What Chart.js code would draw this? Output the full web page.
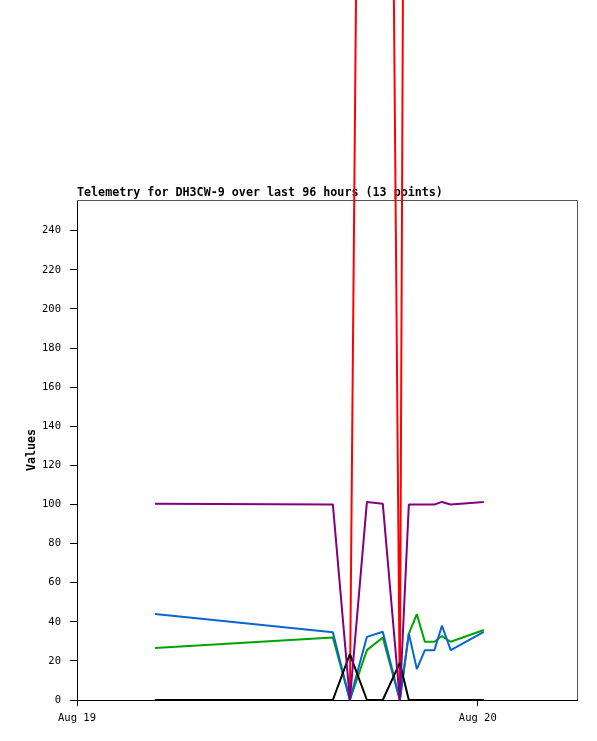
<!DOCTYPE html>
<html>
<head>
<meta charset="utf-8">
<style>
html,body{margin:0;padding:0;background:#fff;}
canvas{display:block;}
</style>
<script src="https://cdn.jsdelivr.net/npm/chart.js@4/dist/chart.umd.min.js"></script>
</head>
<body>
<canvas id="c" width="597" height="741"></canvas>
<script>
// Hours since Aug 19 00:00
const times = [4.67, 15.32, 16.34, 17.36, 18.31, 19.33, 19.87, 20.35, 20.83, 21.40, 21.85, 22.38, 24.36];
const purpleValues = [100.3, 100, 0, 101.3, 100.4, 0, 100, 100, 100, 100, 101.3, 100, 101.3];
const blueValues   = [44, 34.7, 0, 32.3, 34.9, 0, 34, 15.8, 25.5, 25.5, 38, 25.5, 34.9];
const greenValues  = [26.6, 32, 0, 25.5, 32, 0, 34, 43.9, 29.8, 29.8, 32.7, 29.8, 35.8];
const blackValues  = [0, 0, 23.5, 0, 0, 19, 0, 0, 0, 0, 0, 0, 0];
const redValues    = [null, null, 0, 1000, 1030, 0, 1040, 1013, 1013, 1013, 1013, 1013, 1013];
const xTickValues = [0, 24];
const xTickLabels = ['Aug 19', 'Aug 20'];
const yTickStep = 20;
const titleText = 'Telemetry for DH3CW-9 over last 96 hours (13 points)';
const yTitleText = 'Values';

function pts(vals){ return vals.map((v,i)=>({x: times[i], y: v})); }

const monoFont = '"DejaVu Sans Mono", "Liberation Mono", monospace';

const frame = {
  id: 'frame',
  beforeDatasetsDraw(chart){
    const ctx = chart.ctx, a = chart.chartArea;
    ctx.save();
    ctx.strokeStyle = '#555';
    ctx.lineWidth = 1;
    ctx.beginPath();
    ctx.moveTo(a.left, a.top + 0.5);
    ctx.lineTo(a.right + 0.5, a.top + 0.5);
    ctx.lineTo(a.right + 0.5, a.bottom);
    ctx.stroke();
    ctx.fillStyle = '#000';
    ctx.font = 'bold 11.7px ' + monoFont;
    ctx.textAlign = 'left';
    ctx.textBaseline = 'alphabetic';
    ctx.fillText(titleText, a.left, 196);
    ctx.translate(32, (a.top + a.bottom) / 2);
    ctx.rotate(-Math.PI / 2);
    ctx.textAlign = 'center';
    ctx.textBaseline = 'middle';
    ctx.fillText(yTitleText, 0, 0);
    ctx.restore();
  }
};

const common = {fill: false, tension: 0, pointRadius: 0, borderWidth: 2, clip: false, borderJoinStyle: 'bevel', spanGaps: false};

new Chart(document.getElementById('c'), {
  type: 'line',
  data: {
    datasets: [
      Object.assign({label: 'purple', data: pts(purpleValues), borderColor: '#800080'}, common),
      Object.assign({label: 'black', data: pts(blackValues), borderColor: '#000000'}, common),
      Object.assign({label: 'red', data: pts(redValues), borderColor: '#ff0000'}, common),
      Object.assign({label: 'blue', data: pts(blueValues), borderColor: '#0a66cc'}, common),
      Object.assign({label: 'green', data: pts(greenValues), borderColor: '#00a400'}, common)
    ]
  },
  options: {
    responsive: false,
    devicePixelRatio: 1,
    animation: false,
    layout: {padding: {left: 0, top: 200, right: 20, bottom: 0}},
    plugins: {legend: {display: false}, tooltip: {enabled: false}, title: {display: false}},
    scales: {
      x: {
        type: 'linear',
        min: 0,
        max: 29.94,
        afterFit(s){ s.height = 41; },
        afterBuildTicks(s){ s.ticks = xTickValues.map(v => ({value: v})); },
        grid: {display: true, drawOnChartArea: false, drawTicks: true, tickLength: 6, color: '#000'},
        border: {display: true, color: '#000', width: 1},
        ticks: {
          color: '#000', padding: 6, maxRotation: 0, autoSkip: false,
          font: {family: monoFont, size: 10.5},
          callback(v){ const i = xTickValues.indexOf(v); return i >= 0 ? xTickLabels[i] : ''; }
        }
      },
      y: {
        type: 'linear',
        min: 0,
        max: 255.7,
        afterFit(s){ s.width = 77; },
        afterBuildTicks(s){ s.ticks = s.ticks.filter(t => Math.abs(t.value % yTickStep) < 1e-6); },
        grid: {display: true, drawOnChartArea: false, drawTicks: true, tickLength: 7, color: '#000'},
        border: {display: true, color: '#000', width: 1},
        ticks: {
          color: '#000', padding: 9, stepSize: yTickStep,
          font: {family: monoFont, size: 10.5}
        }
      }
    }
  },
  plugins: [frame]
});
</script>
</body>
</html>
